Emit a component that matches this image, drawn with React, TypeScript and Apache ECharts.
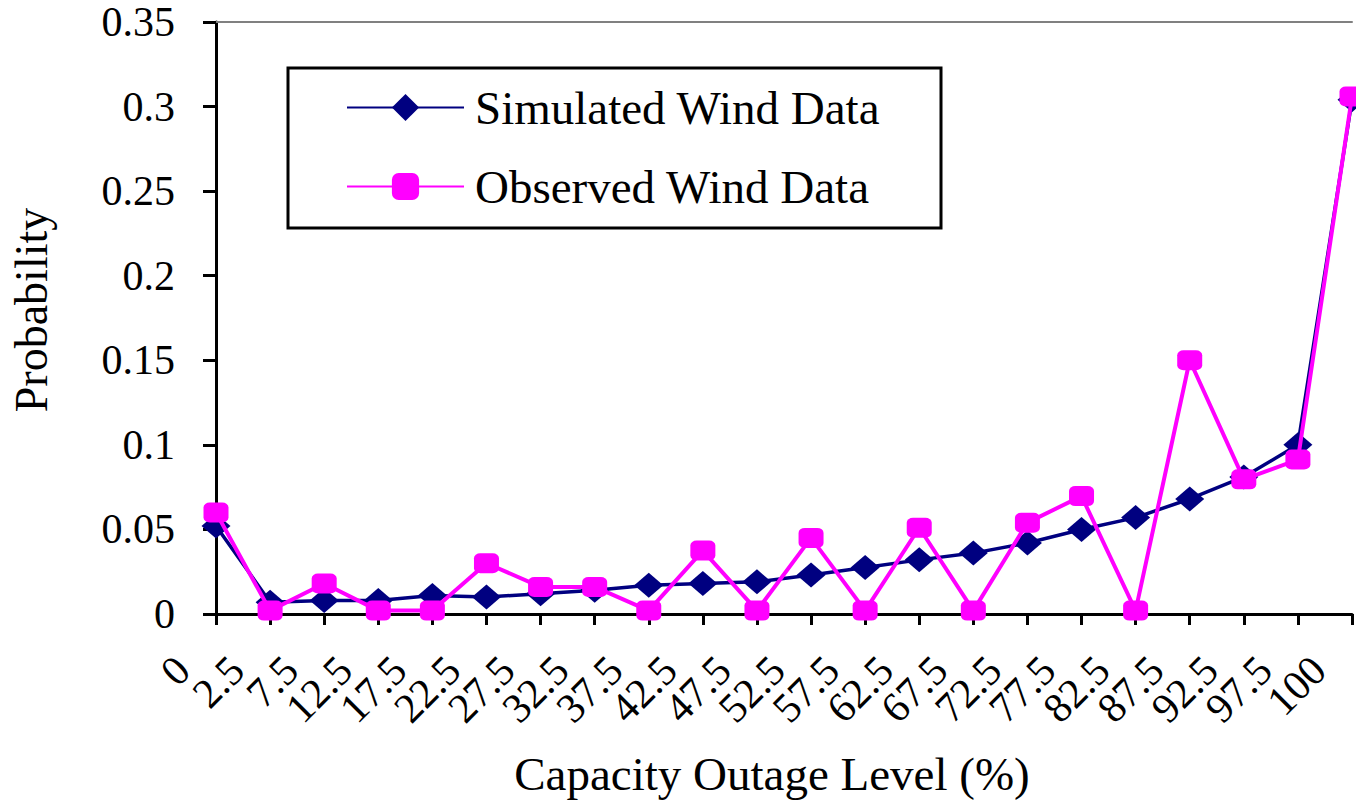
import React, { useEffect, useRef } from "react";
import * as echarts from "echarts";

const categories = [
  "0", "2.5", "7.5", "12.5", "17.5", "22.5", "27.5", "32.5", "37.5", "42.5", "47.5",
  "52.5", "57.5", "62.5", "67.5", "72.5", "77.5", "82.5", "87.5", "92.5", "97.5", "100",
];

const simulated = [
  0.052, 0.007, 0.008, 0.008, 0.011, 0.01, 0.012, 0.014, 0.017, 0.018, 0.019,
  0.023, 0.0275, 0.032, 0.036, 0.042, 0.05, 0.057, 0.068, 0.081, 0.1, 0.304,
];

const observed = [
  0.06, 0.002, 0.018, 0.002, 0.002, 0.03, 0.016, 0.016, 0.002, 0.0375, 0.002,
  0.045, 0.002, 0.051, 0.002, 0.054, 0.0697, 0.002, 0.15, 0.0796, 0.0913, 0.306,
];

const yTicks = { min: 0, max: 0.35, interval: 0.05 };

const seriesNames = ["Simulated Wind Data", "Observed Wind Data"];
const xTitle = "Capacity Outage Level (%)";
const yTitle = "Probability";

const FONT = "'Liberation Serif', 'Times New Roman', serif";

export default function App() {
  const ref = useRef<HTMLDivElement>(null);

  useEffect(() => {
    if (!ref.current) return;
    const chart = echarts.init(ref.current, undefined, { renderer: "svg" });
    chart.setOption({
      animation: false,
      backgroundColor: "#ffffff",
      grid: { left: 213, right: 4, top: 22, bottom: 182, containLabel: false },
      graphic: [
        {
          type: "rect",
          z: 0,
          shape: { x: 288, y: 68, width: 653, height: 160 },
          style: { fill: "#ffffff", stroke: "#000000", lineWidth: 3 },
        },
      ],
      legend: {
        orient: "vertical",
        left: 346,
        top: 84,
        padding: 0,
        itemWidth: 117,
        itemHeight: 34,
        itemGap: 32,
        z: 5,
        data: seriesNames,
        textStyle: {
          fontFamily: FONT,
          fontSize: 47,
          color: "#000000",
          lineHeight: 46,
          padding: [0, 0, 0, 6],
        },
      },
      xAxis: [
        {
          type: "category",
          data: categories,
          boundaryGap: false,
          position: "bottom",
          name: xTitle,
          nameLocation: "middle",
          nameGap: 136,
          nameTextStyle: {
            fontFamily: FONT,
            fontSize: 47,
            color: "#000000",
            padding: [0, 24, 0, 0],
          },
          axisLine: { show: true, lineStyle: { color: "#000000", width: 3 } },
          axisTick: { show: true, length: 11, lineStyle: { color: "#000000", width: 3 }, interval: 0 },
          axisLabel: {
            interval: 0,
            rotate: 45,
            margin: 16,
            padding: [0, 47, 0, 0],
            fontFamily: FONT,
            fontSize: 42,
            color: "#000000",
          },
          splitLine: { show: false },
        },
        {
          type: "category",
          data: categories,
          boundaryGap: false,
          position: "top",
          axisLine: { show: true, lineStyle: { color: "#808080", width: 2 } },
          axisTick: { show: false },
          axisLabel: { show: false },
          splitLine: { show: false },
        },
      ],
      yAxis: {
        type: "value",
        min: yTicks.min,
        max: yTicks.max,
        interval: yTicks.interval,
        name: yTitle,
        nameLocation: "middle",
        nameGap: 162,
        nameRotate: 90,
        nameTextStyle: {
          fontFamily: FONT,
          fontSize: 46,
          color: "#000000",
          padding: [0, 0, 0, 16],
        },
        axisLine: { show: true, onZero: false, lineStyle: { color: "#000000", width: 3 } },
        axisTick: { show: true, length: 13, lineStyle: { color: "#000000", width: 3 } },
        axisLabel: { margin: 41, fontFamily: FONT, fontSize: 42, color: "#000000" },
        splitLine: { show: false },
      },
      series: [
        {
          name: seriesNames[0],
          type: "line",
          data: simulated,
          symbol: "diamond",
          symbolSize: [29, 25],
          showAllSymbol: true,
          lineStyle: { color: "#000080", width: 3.5 },
          itemStyle: { color: "#000080" },
          z: 2,
        },
        {
          name: seriesNames[1],
          type: "line",
          data: observed,
          symbol: "roundRect",
          symbolSize: [25, 20],
          showAllSymbol: true,
          lineStyle: { color: "#FF00FF", width: 4 },
          itemStyle: { color: "#FF00FF" },
          z: 3,
        },
      ],
    });
    return () => chart.dispose();
  }, []);

  return (
    <div
      ref={ref}
      style={{ position: "absolute", left: 0, top: 0, width: 1356, height: 802, background: "#fff" }}
    />
  );
}
